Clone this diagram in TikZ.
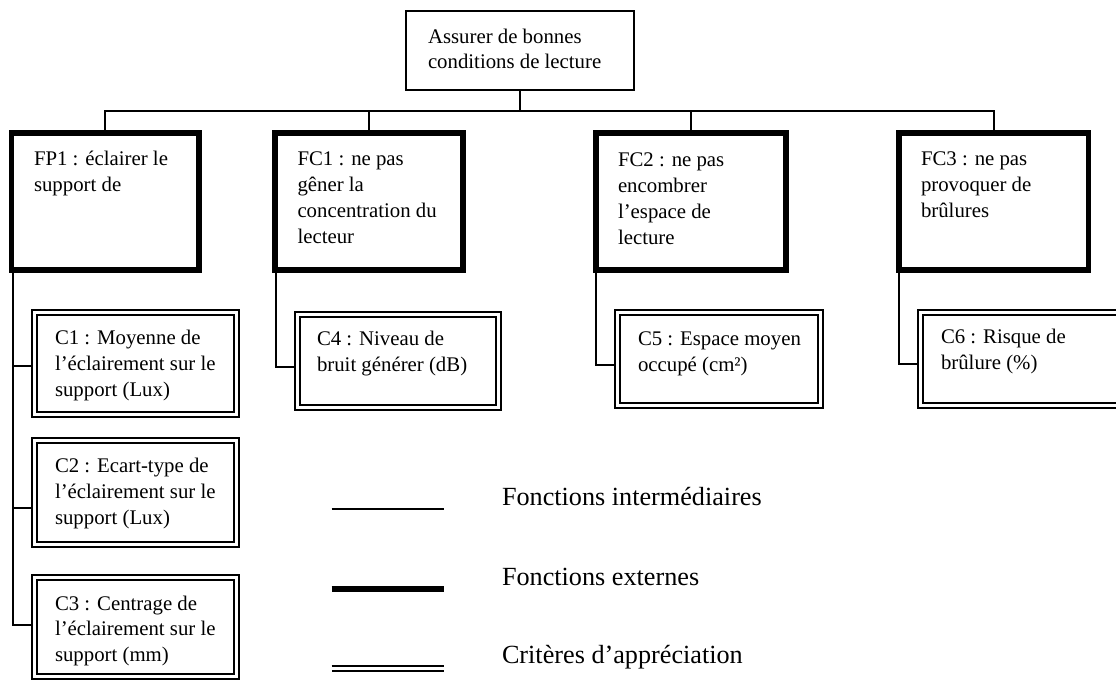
\documentclass[tikz,border=0pt]{standalone}
\usepackage{fontspec}
\setmainfont{Liberation Serif}
\newcommand{\fst}{\rule{0pt}{16pt}}
\begin{document}
\begin{tikzpicture}[x=1pt,y=-1pt,
  every node/.style={inner sep=0pt, outer sep=0pt},
  conn/.style={line width=2pt},
  topbox/.style={draw, line width=2pt, minimum width=228pt, minimum height=79pt},
  fbox/.style={draw, line width=5.5pt, minimum width=188pt, minimum height=137pt},
  cbox/.style={draw, double, line width=2pt, double distance=3pt, outer sep=3.5pt},
  txt/.style={anchor=north west, align=left, font=\fontsize{20.8}{26}\selectfont},
  leg/.style={anchor=base west, font=\fontsize{26.2}{30}\selectfont},
  legthin/.style={line width=2pt},
  legthick/.style={line width=6pt},
  legdouble/.style={double, line width=2pt, double distance=3pt},
]
\useasboundingbox (0,0) rectangle (1116,682);
\clip (0,0) rectangle (1116,682);

% boxes
\node[topbox] (top) at (520,50.5) {};
\node[fbox, minimum width=187.5pt] (fp1) at (105.25,201.5) {};
\node[fbox] (fc1) at (369,201.5) {};
\node[fbox, minimum width=190pt] (fc2) at (691,201.5) {};
\node[fbox, minimum width=189.5pt] (fc3) at (993.75,201.5) {};

\node[cbox, minimum width=201.6pt, minimum height=102pt] (c1) at (135.7,363.5) {};
\node[cbox, minimum width=201.6pt, minimum height=104pt] (c2) at (135.7,492.5) {};
\node[cbox, minimum width=201.6pt, minimum height=99pt] (c3) at (135.7,627) {};
\node[cbox, minimum width=201.5pt, minimum height=93pt] (c4) at (397.75,361) {};
\node[cbox, minimum width=203.4pt, minimum height=93pt] (c5) at (718.8,359) {};
\node[cbox, minimum width=201.5pt, minimum height=93pt] (c6) at (1021.25,359) {};

% texts
\node[txt, font=\fontsize{20.8}{24.5}\selectfont] (ttop) at (428,28) {\fst Assurer de bonnes\\conditions de lecture};
\node[txt] (tfp1) at (34,149) {\fst FP1 : éclairer le\\support de};
\node[txt] (tfc1) at (297.5,149) {\fst FC1 : ne pas\\gêner la\\concentration du\\lecteur};
\node[txt] (tfc2) at (618,150) {\fst FC2 : ne pas\\encombrer\\l’espace de\\lecture};
\node[txt] (tfc3) at (921,149) {\fst FC3 : ne pas\\provoquer de\\brûlures};
\node[txt] (tc1) at (55,328) {\fst C1 : Moyenne de\\l’éclairement sur le\\support (Lux)};
\node[txt] (tc2) at (55,456) {\fst C2 : Ecart-type de\\l’éclairement sur le\\support (Lux)};
\node[txt, font=\fontsize{20.8}{25.5}\selectfont] (tc3) at (55,594) {\fst C3 : Centrage de\\l’éclairement sur le\\support (mm)};
\node[txt] (tc4) at (317,329) {\fst C4 : Niveau de\\bruit générer (dB)};
\node[txt] (tc5) at (638,329) {\fst C5 : Espace moyen\\occupé (cm²)};
\node[txt] (tc6) at (941,327) {\fst C6 : Risque de\\brûlure (\%)};

% top connectors
\coordinate (bar) at (520,111);
\draw[conn] (top.south) -- (bar);
\draw[conn] (fp1.north) |- (bar) -| (fc3.north);
\draw[conn] (fc1.north) -- (fc1.north |- bar);
\draw[conn] (fc2.north) -- (fc2.north |- bar);

% FP1 criteria
\coordinate (s1) at ([xshift=1.5pt]fp1.south west);
\coordinate (b1) at ([yshift=-2.5pt]c1.west);
\coordinate (b2) at ([yshift=-15.5pt]c2.west);
\coordinate (b3) at ([yshift=2pt]c3.west);
\draw[conn] (s1) |- (b3);
\draw[conn] (b1) -- (b1 -| s1);
\draw[conn] (b2) -- (b2 -| s1);

% FC criteria
\coordinate (s4) at ([xshift=1pt]fc1.south west);
\coordinate (b4) at ([yshift=-6pt]c4.west);
\draw[conn] (s4) |- (b4);
\coordinate (s5) at (fc2.south west);
\coordinate (b5) at ([yshift=-6pt]c5.west);
\draw[conn] (s5) |- (b5);
\coordinate (s6) at (fc3.south west);
\coordinate (b6) at ([yshift=-5pt]c6.west);
\draw[conn] (s6) |- (b6);

% legend
\coordinate (l1a) at (331.7,509); \coordinate (l1b) at (444,509);
\coordinate (l2a) at (331.7,589); \coordinate (l2b) at (444,589);
\coordinate (l3a) at (331.7,668); \coordinate (l3b) at (444,668);
\draw[legthin] (l1a) -- (l1b);
\draw[legthick] (l2a) -- (l2b);
\draw[legdouble] (l3a) -- (l3b);
\node[leg] (lg1) at (502,505) {Fonctions intermédiaires};
\node[leg] (lg2) at (502,585) {Fonctions externes};
\node[leg] (lg3) at (502,663) {Critères d’appréciation};
\end{tikzpicture}
\end{document}
